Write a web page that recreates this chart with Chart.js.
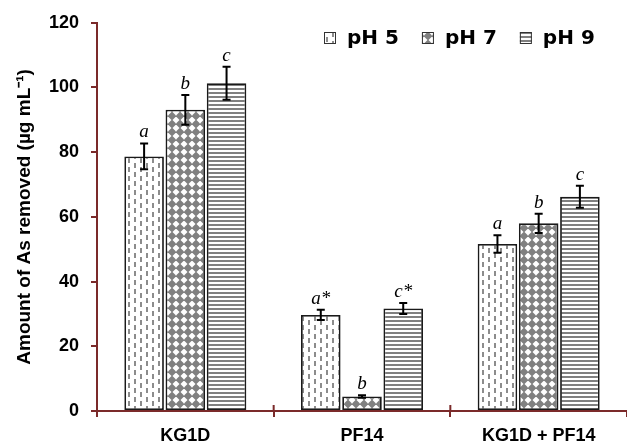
<!DOCTYPE html>
<html>
<head>
<meta charset="utf-8">
<script src="https://cdn.jsdelivr.net/npm/chart.js@4/dist/chart.umd.min.js"></script>
<style>
  body { margin: 0; background: #fff; }
  #wrap { width: 627px; height: 448px; position: relative; }
</style>
</head>
<body>
<div id="wrap"><canvas id="as-chart"></canvas></div>
<script>
const categories = ["KG1D", "PF14", "KG1D + PF14"];
const seriesNames = ["pH 5", "pH 7", "pH 9"];
const ph5 = [78.7, 29.7, 51.6];
const ph7 = [93.1, 4.5, 58.0];
const ph9 = [101.3, 31.7, 66.2];
const ph5Err = [4.0, 1.6, 2.7];
const ph7Err = [4.6, 0.4, 3.0];
const ph9Err = [5.1, 1.7, 3.4];
const ph5Letters = ["a", "a*", "a"];
const ph7Letters = ["b", "b", "b"];
const ph9Letters = ["c", "c*", "c"];
const yTicks = [0, 20, 40, 60, 80, 100, 120];

const AXIS = "#7b2a2a";
const PATTERN_GREY = "#808080";

function makePattern(w, h, draw) {
  const c = document.createElement("canvas");
  c.width = w;
  c.height = h;
  const g = c.getContext("2d");
  g.fillStyle = "#fff";
  g.fillRect(0, 0, w, h);
  draw(g);
  return document.createElement("canvas").getContext("2d").createPattern(c, "repeat");
}

// dashed vertical lines, staggered
const dashPattern = makePattern(12, 18, (g) => {
  g.fillStyle = "#8c8c8c";
  g.fillRect(2, 1, 2, 5);
  g.fillRect(2, 10, 2, 5);
  g.fillRect(8, 5, 2, 5);
  g.fillRect(8, 14, 2, 4);
  g.fillRect(8, 0, 2, 1);
});

// grey diamonds
const diamondPattern = makePattern(8, 8, (g) => {
  g.fillStyle = PATTERN_GREY;
  g.beginPath();
  g.moveTo(4, -0.5);
  g.lineTo(8.5, 4);
  g.lineTo(4, 8.5);
  g.lineTo(-0.5, 4);
  g.closePath();
  g.fill();
});

// horizontal stripes
const stripePattern = makePattern(4, 4, (g) => {
  g.fillStyle = PATTERN_GREY;
  g.fillRect(0, 0, 4, 2);
});

const patterns = [dashPattern, diamondPattern, stripePattern];
const errors = [ph5Err, ph7Err, ph9Err];
const letters = [ph5Letters, ph7Letters, ph9Letters];

const errorBarPlugin = {
  id: "errorBars",
  afterDatasetsDraw(chart) {
    const ctx = chart.ctx;
    const y = chart.scales.y;
    ctx.save();
    chart.data.datasets.forEach((ds, i) => {
      const meta = chart.getDatasetMeta(i);
      meta.data.forEach((bar, j) => {
        const v = ds.data[j];
        const e = errors[i][j];
        const top = y.getPixelForValue(v + e);
        const bot = y.getPixelForValue(v - e);
        ctx.strokeStyle = "#000";
        ctx.lineWidth = 2;
        ctx.beginPath();
        ctx.moveTo(bar.x, top);
        ctx.lineTo(bar.x, bot);
        ctx.moveTo(bar.x - 4, top);
        ctx.lineTo(bar.x + 4, top);
        ctx.moveTo(bar.x - 4, bot);
        ctx.lineTo(bar.x + 4, bot);
        ctx.stroke();
        ctx.fillStyle = "#000";
        ctx.font = "italic 19px 'Liberation Serif'";
        ctx.textAlign = "center";
        ctx.textBaseline = "alphabetic";
        ctx.fillText(letters[i][j], bar.x, top - 6);
      });
    });
    ctx.restore();
  },
};

const axisDecorPlugin = {
  id: "axisDecor",
  afterDraw(chart) {
    const ctx = chart.ctx;
    const x = chart.scales.x;
    const area = chart.chartArea;
    ctx.save();
    ctx.strokeStyle = AXIS;
    ctx.lineWidth = 2;
    ctx.beginPath();
    for (let k = 1; k < categories.length; k++) {
      const px = (x.getPixelForValue(k - 1) + x.getPixelForValue(k)) / 2;
      ctx.moveTo(px, area.bottom - 6);
      ctx.lineTo(px, area.bottom);
    }
    ctx.stroke();

    // legend inside the plot, top right
    let lx = 324;
    const ly = 38;
    ctx.font = "bold 20px 'DejaVu Sans'";
    ctx.textBaseline = "middle";
    ctx.textAlign = "left";
    chart.data.datasets.forEach((ds) => {
      ctx.fillStyle = ds.backgroundColor;
      ctx.fillRect(lx, ly - 6, 12, 12);
      ctx.strokeStyle = "#333";
      ctx.lineWidth = 1;
      ctx.strokeRect(lx + 0.5, ly - 5.5, 11, 11);
      ctx.fillStyle = "#000";
      ctx.fillText(ds.label, lx + 23, ly + 1);
      lx += 23 + ctx.measureText(ds.label).width + 23;
    });
    ctx.restore();
  },
};

const datasets = [ph5, ph7, ph9].map((vals, i) => ({
  label: seriesNames[i],
  data: vals,
  backgroundColor: patterns[i],
  borderColor: "#1a1a1a",
  borderWidth: 1.8,
  borderSkipped: false,
  categoryPercentage: 0.7,
  barPercentage: 0.96,
}));

new Chart(document.getElementById("as-chart"), {
  type: "bar",
  data: { labels: categories, datasets: datasets },
  plugins: [errorBarPlugin, axisDecorPlugin],
  options: {
    responsive: true,
    maintainAspectRatio: false,
    animation: false,
    layout: { padding: { top: 19, right: 0, left: 0, bottom: 0 } },
    plugins: {
      legend: { display: false },
      tooltip: { enabled: false },
    },
    scales: {
      x: {
        afterFit(scale) {
          scale.height = 37;
        },
        border: { color: AXIS, width: 2 },
        grid: {
          offset: true,
          drawOnChartArea: false,
          drawTicks: true,
          tickLength: 6,
          color: AXIS,
          lineWidth: 2,
        },
        ticks: {
          color: "#000",
          padding: 8,
          font: { family: "'Liberation Sans'", size: 18, weight: "bold" },
        },
      },
      y: {
        min: 0,
        max: 120,
        afterFit(scale) {
          scale.width = 97;
        },
        afterBuildTicks(scale) {
          scale.ticks = yTicks.map((v) => ({ value: v }));
        },
        border: { color: AXIS, width: 2 },
        grid: {
          drawOnChartArea: false,
          drawTicks: true,
          tickLength: 6,
          color: AXIS,
          lineWidth: 2,
        },
        ticks: {
          color: "#000",
          padding: 12,
          font: { family: "'Liberation Sans'", size: 18, weight: "bold" },
        },
        title: {
          display: true,
          text: "Amount of As removed (µg mL⁻¹)",
          color: "#000",
          padding: { top: 13, bottom: 0 },
          font: { family: "'Liberation Sans'", size: 19, weight: "bold" },
        },
      },
    },
  },
});
</script>
</body>
</html>
